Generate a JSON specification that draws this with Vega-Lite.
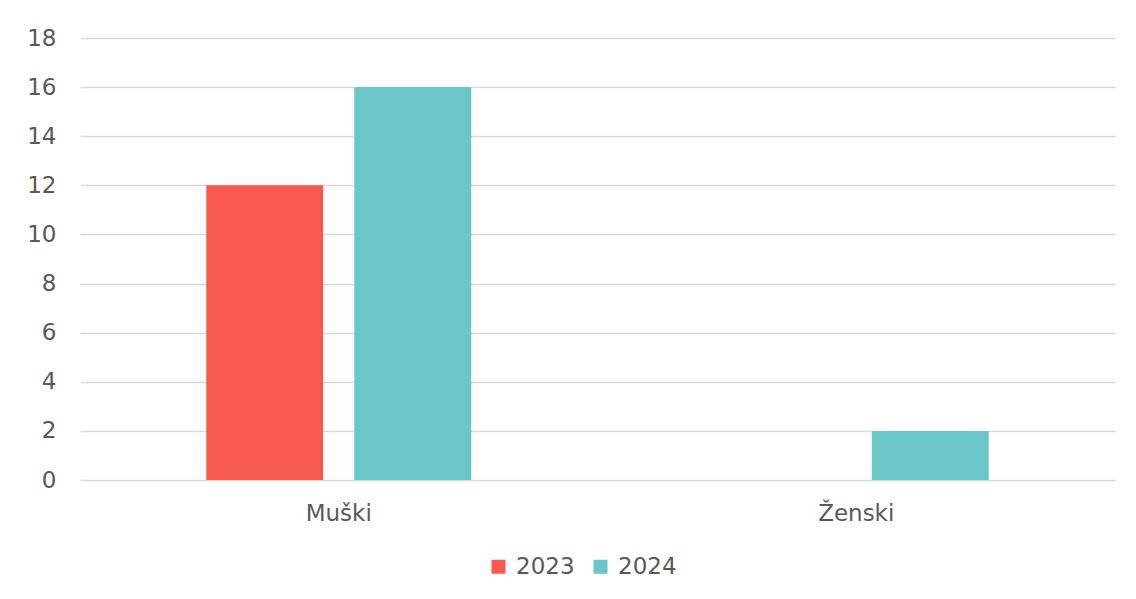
{
  "$schema": "https://vega.github.io/schema/vega-lite/v6.json",
  "width": 1035,
  "height": 442,
  "autosize": {"type": "none"},
  "padding": {"left": 80, "top": 38, "right": 21, "bottom": 119},
  "background": "#ffffff",
  "data": {
    "values": [
      {"spol": "Muški", "godina": "2023", "broj": 12},
      {"spol": "Muški", "godina": "2024", "broj": 16},
      {"spol": "Ženski", "godina": "2023", "broj": 0},
      {"spol": "Ženski", "godina": "2024", "broj": 2}
    ]
  },
  "mark": {"type": "bar"},
  "encoding": {
    "x": {
      "field": "spol",
      "type": "nominal",
      "sort": ["Muški", "Ženski"],
      "scale": {"paddingInner": 0, "paddingOuter": 0},
      "axis": {
        "title": null,
        "labelAngle": 0,
        "ticks": false,
        "domain": false,
        "labelPadding": 22,
        "labelFontSize": 23,
        "labelColor": "#595959",
        "labelFont": "DejaVu Sans"
      }
    },
    "xOffset": {
      "field": "godina",
      "type": "nominal",
      "scale": {"paddingInner": 0.21, "paddingOuter": 0.853}
    },
    "y": {
      "field": "broj",
      "type": "quantitative",
      "scale": {"domain": [0, 18], "nice": false},
      "axis": {
        "title": null,
        "values": [0, 2, 4, 6, 8, 10, 12, 14, 16, 18],
        "ticks": false,
        "domain": false,
        "labelPadding": 24,
        "labelFontSize": 23,
        "labelColor": "#595959",
        "labelFont": "DejaVu Sans",
        "gridColor": "#d9d9d9",
        "gridWidth": 1.5
      }
    },
    "color": {
      "field": "godina",
      "type": "nominal",
      "scale": {"domain": ["2023", "2024"], "range": ["#F8594F", "#69C7C8"]},
      "legend": {
        "title": null,
        "orient": "none",
        "legendX": 407,
        "legendY": 517,
        "direction": "horizontal",
        "symbolType": "square",
        "symbolSize": 196,
        "symbolStrokeWidth": 0,
        "labelFontSize": 23,
        "labelColor": "#595959",
        "labelFont": "DejaVu Sans",
        "labelOffset": 6,
        "columnPadding": 14
      }
    }
  },
  "config": {
    "view": {"stroke": null},
    "axis": {"gridColor": "#d9d9d9"}
  }
}
